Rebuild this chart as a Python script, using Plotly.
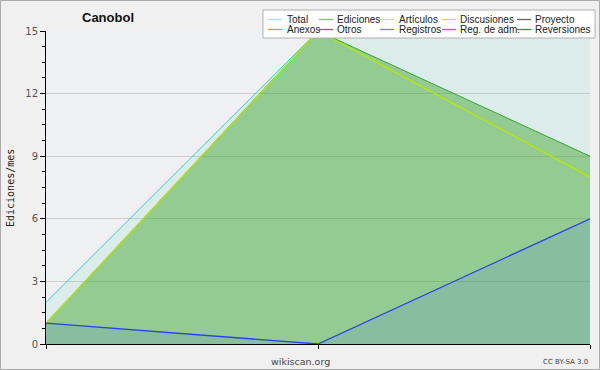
import plotly.graph_objects as go

# ---- data ----
months = [0, 1, 2]
total = [2, 15, 15]
ediciones = [1, 15, 9]
articulos = [1, 15, 8]
registros = [1, 0, 6]

y_ticks = [0, 3, 6, 9, 12, 15]

legend_labels = ["Total", "Ediciones", "Artículos", "Discusiones", "Proyecto",
                 "Anexos", "Otros", "Registros", "Reg. de adm.", "Reversiones"]
legend_colors = ["#9fe3e3", "#7cc47c", "#c8ec5a", "#f0cc55", "#666666",
                 "#f08a4a", "#8a4aee", "#7a7aee", "#cc4ee8", "#ee3a3a"]

# ---- layout geometry (pixels) ----
W, H = 600, 370
ML, MR, MT, MB = 46, 10, 31, 26
PW, PH = W - ML - MR, H - MT - MB


def px(x):
    return (x - ML) / PW


def py(y):
    return (H - MB - y) / PH


fig = go.Figure()

fig.add_trace(go.Scatter(x=months, y=total, mode="lines", fill="tozeroy",
                         line=dict(color="#30d4d4", width=1),
                         fillcolor="rgba(90,215,185,0.12)", showlegend=False,
                         hoverinfo="skip"))
fig.add_trace(go.Scatter(x=months, y=ediciones, mode="lines", fill="tozeroy",
                         line=dict(color="#37a437", width=1),
                         fillcolor="rgba(50,160,30,0.43)", showlegend=False,
                         hoverinfo="skip"))
fig.add_trace(go.Scatter(x=months, y=articulos, mode="lines",
                         line=dict(color="#b6ea00", width=1.3),
                         showlegend=False, hoverinfo="skip"))
fig.add_trace(go.Scatter(x=months, y=registros, mode="lines", fill="tozeroy",
                         line=dict(color="#2a40f0", width=1.3),
                         fillcolor="rgba(60,100,255,0.12)", showlegend=False,
                         hoverinfo="skip"))

shapes = []
annotations = []

# outer image border
shapes.append(dict(type="rect", xref="paper", yref="paper",
                   x0=px(0.5), x1=px(W - 0.5), y0=py(H - 0.5), y1=py(0.5),
                   line=dict(color="#aaaaaa", width=1), layer="below"))

# legend box
shapes.append(dict(type="rect", xref="paper", yref="paper",
                   x0=px(263), x1=px(595), y0=py(38), y1=py(10),
                   fillcolor="white", line=dict(color="#b0b0b0", width=1),
                   layer="above"))

col_line_x = [268, 319, 380, 442, 517]
col_text_x = [285, 335, 397, 458, 533]
row_y = [19.5, 29.5]
for i, (lab, col) in enumerate(zip(legend_labels, legend_colors)):
    r, c = divmod(i, 5)
    shapes.append(dict(type="line", xref="paper", yref="paper",
                       x0=px(col_line_x[c]), x1=px(col_line_x[c] + 14),
                       y0=py(row_y[r]), y1=py(row_y[r]),
                       line=dict(color=col, width=1.3), layer="above"))
    annotations.append(dict(text=lab, xref="paper", yref="paper",
                            x=px(col_text_x[c]), y=py(row_y[r]),
                            xanchor="left", yanchor="middle", showarrow=False,
                            font=dict(family="Liberation Sans", size=10,
                                      color="#222222")))

# title
annotations.append(dict(text="<b>Canobol</b>", xref="paper", yref="paper",
                        x=px(108), y=py(17), xanchor="center", yanchor="middle",
                        showarrow=False,
                        font=dict(family="Liberation Sans", size=13,
                                  color="#111111")))
# y title
annotations.append(dict(text="Ediciones/mes", xref="paper", yref="paper",
                        x=px(10), y=py(188), xanchor="center", yanchor="middle",
                        textangle=-90, showarrow=False,
                        font=dict(family="DejaVu Sans Mono", size=10,
                                  color="#222222")))
# footer
annotations.append(dict(text="wikiscan.org", xref="paper", yref="paper",
                        x=px(300), y=py(361), xanchor="center", yanchor="middle",
                        showarrow=False,
                        font=dict(family="DejaVu Sans", size=9.5,
                                  color="#444444")))
annotations.append(dict(text="CC BY-SA 3.0", xref="paper", yref="paper",
                        x=px(590), y=py(362), xanchor="right", yanchor="middle",
                        showarrow=False,
                        font=dict(family="DejaVu Sans", size=7,
                                  color="#444444")))

fig.update_layout(
    width=W, height=H,
    margin=dict(l=ML, r=MR, t=MT, b=MB, pad=0),
    paper_bgcolor="#f0f0f0",
    plot_bgcolor="#eef0f3",
    showlegend=False,
    shapes=shapes,
    annotations=annotations,
    xaxis=dict(range=[months[0], months[-1]], tickvals=months, ticktext=["", "", ""],
               showgrid=False, zeroline=False, showline=True, linecolor="black",
               linewidth=1, ticks="outside", ticklen=4, tickcolor="black",
               fixedrange=True),
    yaxis=dict(range=[0, 15], tickvals=y_ticks, showgrid=True,
               gridcolor="#cfcfcf", gridwidth=1, zeroline=False,
               showline=True, linecolor="black", linewidth=1,
               ticks="outside", ticklen=5, tickcolor="black",
               tickfont=dict(family="DejaVu Sans", size=10, color="#555555"),
               minor=dict(dtick=0.75, ticks="outside", ticklen=3,
                          tickcolor="black", showgrid=False),
               fixedrange=True),
)

fig.write_html("out.html")
